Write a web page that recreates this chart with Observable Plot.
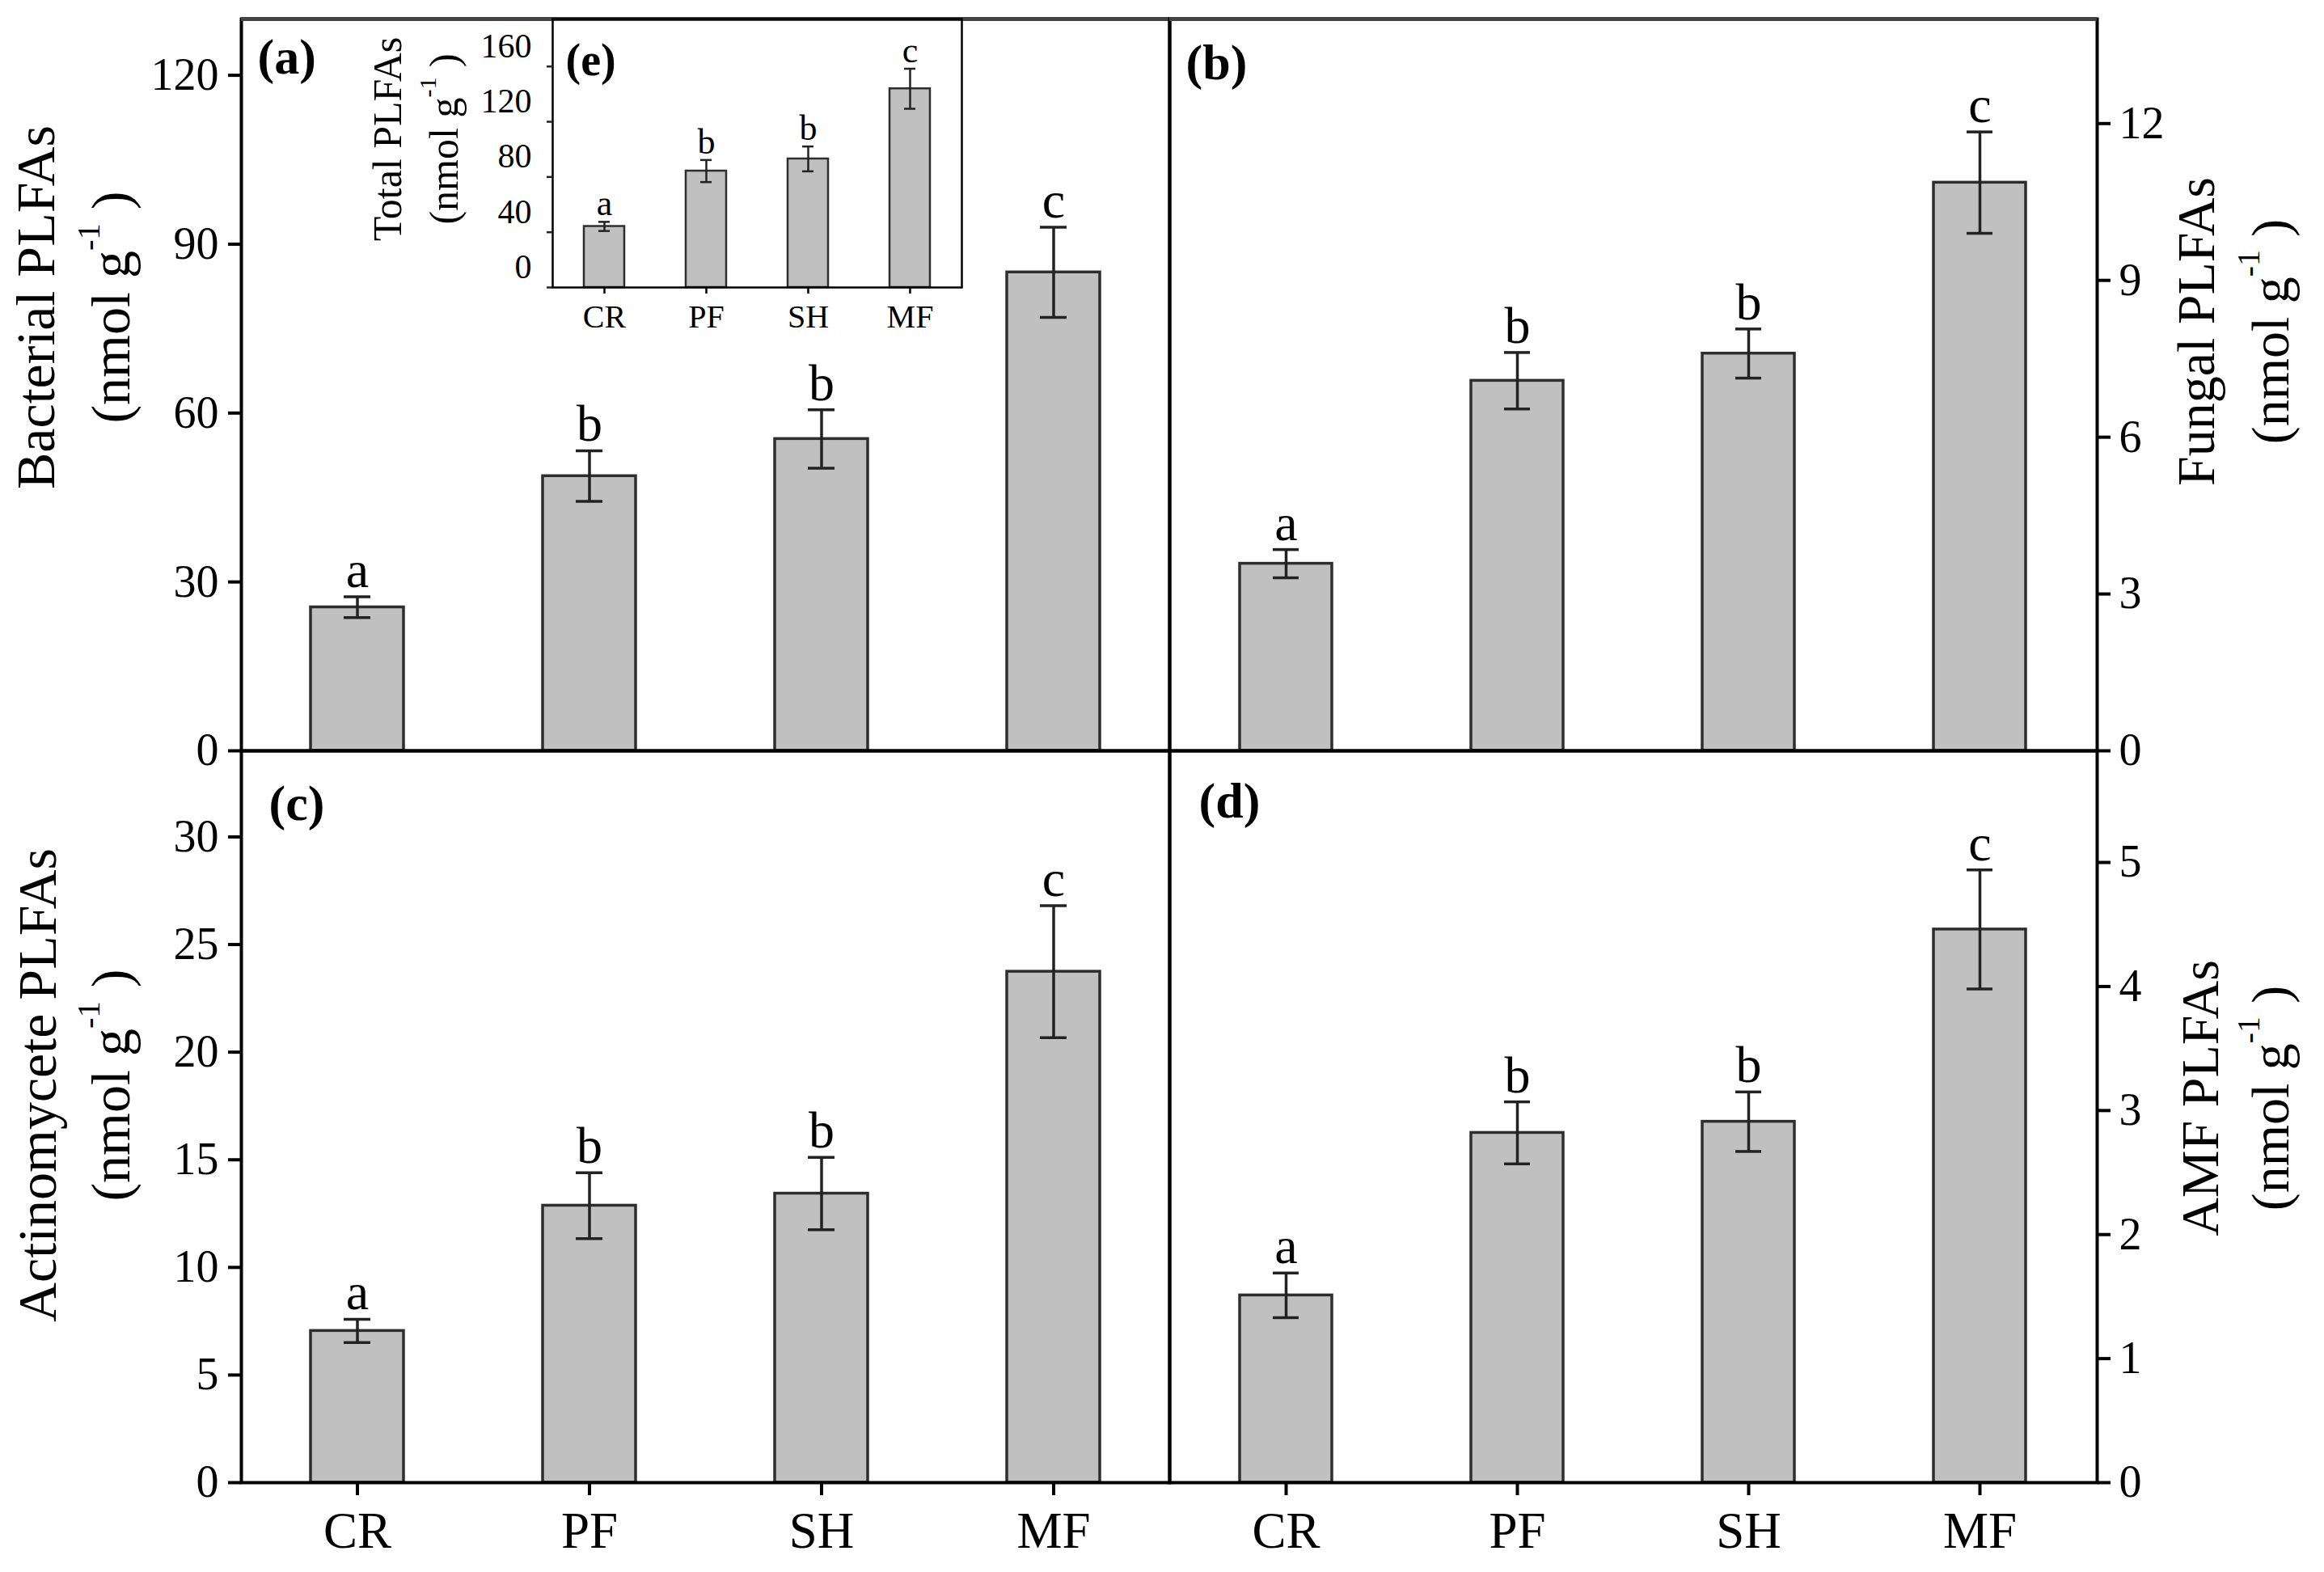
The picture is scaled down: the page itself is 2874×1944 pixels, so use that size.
<!DOCTYPE html>
<html><head><meta charset="utf-8">
<script src="https://cdn.jsdelivr.net/npm/d3@7"></script>
<script src="https://cdn.jsdelivr.net/npm/@observablehq/plot@0.6"></script>
<style>
html,body{margin:0;padding:0;background:#fff;}
#fig{position:relative;width:2874px;height:1944px;background:#fff;overflow:hidden;}
#fig > svg{position:absolute;margin:0;}
</style></head><body><div id="fig"></div>
<script>
const categories = ["CR", "PF", "SH", "MF"];
const letters = ["a", "b", "b", "c"];
const bacterial = [25.5, 48.8, 55.4, 85.0];
const bacterialErr = [1.85, 4.5, 5.2, 8.0];
const fungal = [3.58, 7.08, 7.60, 10.87];
const fungalErr = [0.27, 0.54, 0.47, 0.97];
const actino = [7.05, 12.87, 13.43, 23.74];
const actinoErr = [0.54, 1.53, 1.68, 3.07];
const amf = [1.51, 2.82, 2.91, 4.46];
const amfErr = [0.18, 0.25, 0.24, 0.48];
const total = [44.2, 84.3, 93.1, 143.9];
const totalErr = [3.3, 8.0, 9.0, 14.5];
const ticksA = [0, 30, 60, 90, 120];
const ticksB = [0, 3, 6, 9, 12];
const ticksC = [0, 5, 10, 15, 20, 25, 30];
const ticksD = [0, 1, 2, 3, 4, 5];
const ticksE = [0, 40, 80, 120, 160];

const FONT = "'Liberation Serif','Times New Roman',serif";
const fig = document.getElementById("fig");
const intFmt = d3.format("d");

function rows(vals, errs) {
  return categories.map((c, i) => ({cat: c, v: vals[i], e: errs[i], letter: letters[i]}));
}

function panel(cfg) {
  const data = rows(cfg.values, cfg.errors);
  const errStyle = {stroke: "#222", strokeWidth: cfg.sw};
  const marks = [
    Plot.barY(data, {x: "cat", y: "v", fill: "#c0c0c0", stroke: "#2e2e2e", strokeWidth: cfg.sw}),
    Plot.ruleX(data, {x: "cat", y1: d => d.v - d.e, y2: d => d.v + d.e, ...errStyle}),
    Plot.tickY(data, {x: "cat", y: d => d.v + d.e, insetLeft: cfg.cap, insetRight: cfg.cap, ...errStyle}),
    Plot.tickY(data, {x: "cat", y: d => d.v - d.e, insetLeft: cfg.cap, insetRight: cfg.cap, ...errStyle}),
    Plot.text(data, {x: "cat", y: d => d.v + d.e, text: "letter", dy: -cfg.gap, lineAnchor: "bottom", fontSize: cfg.letterSize}),
    Plot.frame({stroke: "#000", strokeWidth: cfg.frameW})
  ];
  if (cfg.topRule) marks.push(Plot.ruleY([cfg.domain[1]], {stroke: "#444", strokeWidth: 5}));
  if (cfg.splitLabels) {
    marks.push(Plot.axisY({anchor: cfg.side, ticks: cfg.ticks, tickSize: cfg.tickSize, text: null, stroke: "#222", strokeWidth: cfg.frameW, label: null}));
    marks.push(Plot.axisY({anchor: cfg.side, ticks: cfg.ticks, tickFormat: intFmt, tickSize: 0, tickPadding: cfg.tickSize + cfg.tickPad, dy: cfg.labelDy, fontSize: cfg.tickFont, label: null}));
  } else {
    marks.push(Plot.axisY({anchor: cfg.side, ticks: cfg.ticks, tickFormat: intFmt, tickSize: cfg.tickSize, tickPadding: cfg.tickPad, fontSize: cfg.tickFont, strokeWidth: cfg.frameW, label: null}));
  }
  if (cfg.xAxis) marks.push(Plot.axisX({anchor: "bottom", tickSize: cfg.xTickSize, tickPadding: cfg.xTickPad, fontSize: cfg.xFont, strokeWidth: cfg.frameW, label: null}));
  marks.push(Plot.text([cfg.tag], {frameAnchor: "top-left", dx: cfg.tagDx, dy: cfg.tagDy, textAnchor: "start", lineAnchor: "bottom", fontWeight: "bold", fontSize: cfg.tagSize}));

  const el = Plot.plot({
    width: cfg.width, height: cfg.height,
    marginLeft: cfg.m[3], marginRight: cfg.m[1], marginTop: cfg.m[0], marginBottom: cfg.m[2],
    style: {fontFamily: FONT, fontSize: cfg.tickFont + "px", background: "transparent", overflow: "visible", color: "#000"},
    x: {type: "band", domain: categories, paddingInner: 0.6, paddingOuter: 0.3, axis: null},
    y: {domain: cfg.domain, axis: null},
    marks
  });
  el.style.left = cfg.left + "px";
  el.style.top = cfg.top + "px";
  fig.appendChild(el);
}

const main = {sw: 3.5, cap: 41, gap: 12, letterSize: 64, frameW: 4, tickSize: 16, tickPad: 12, tickFont: 56, xTickSize: 16, xTickPad: 20, xFont: 63, tagSize: 62};

panel({...main, values: bacterial, errors: bacterialErr, domain: [0, 130], ticks: ticksA, side: "left", topRule: true,
  width: 1456, height: 938, m: [23, 10, 10, 298], left: 0, top: 0, tag: "(a)", tagDx: 20, tagDy: 67});
panel({...main, values: fungal, errors: fungalErr, domain: [0, 14], ticks: ticksB, side: "right", topRule: true, tickPad: 11,
  width: 1438, height: 938, m: [23, 281, 10, 10], left: 1436, top: 0, tag: "(b)", tagDx: 20, tagDy: 74});
panel({...main, values: actino, errors: actinoErr, domain: [0, 34], ticks: ticksC, side: "left", xAxis: true,
  width: 1456, height: 1026, m: [10, 10, 111, 298], left: 0, top: 918, tag: "(c)", tagDx: 34, tagDy: 85});
panel({...main, values: amf, errors: amfErr, domain: [0, 5.9], ticks: ticksD, side: "right", xAxis: true, tickPad: 11,
  width: 1438, height: 1026, m: [10, 281, 111, 10], left: 1436, top: 918, tag: "(d)", tagDx: 36, tagDy: 82});
panel({sw: 2.5, cap: 18, gap: 8, letterSize: 44, frameW: 2.5, tickSize: 7, tickPad: 19, tickFont: 42, labelDy: -25, splitLabels: true,
  xTickSize: 8, xTickPad: 13, xFont: 40, tagSize: 56,
  values: total, errors: totalErr, domain: [0, 194.4], ticks: ticksE, side: "left", xAxis: true,
  width: 799, height: 445, m: [23, 10, 90, 283], left: 400, top: 0, tag: "(e)", tagDx: 16, tagDy: 69});

// Axis titles (two lines, rotated, with superscript)
const overlay = d3.create("svg").attr("width", 2874).attr("height", 1944)
  .style("left", "0px").style("top", "0px").style("pointer-events", "none")
  .attr("font-family", FONT).attr("fill", "#000");
function vtitle(x1, x2, cy, line1, fs) {
  overlay.append("text").attr("transform", `translate(${x1},${cy}) rotate(-90)`)
    .attr("text-anchor", "middle").attr("font-size", fs).text(line1);
  const t = overlay.append("text").attr("transform", `translate(${x2},${cy}) rotate(-90)`)
    .attr("text-anchor", "middle").attr("font-size", fs);
  t.append("tspan").text("(nmol g");
  t.append("tspan").attr("font-size", fs * 0.6).attr("dy", -0.55 * fs).text("-1");
  t.append("tspan").attr("dy", 0.55 * fs).text(" )");
}
vtitle(67, 160, 380, "Bacterial PLFAs", 68);
vtitle(2738, 2830, 410, "Fungal PLFAs", 66);
vtitle(69, 160, 1342, "Actinomycete PLFAs", 68);
vtitle(2743, 2830, 1358, "AMF PLFAs", 66);
vtitle(496, 566, 172, "Total PLFAs", 50);
fig.appendChild(overlay.node());
</script></body></html>
